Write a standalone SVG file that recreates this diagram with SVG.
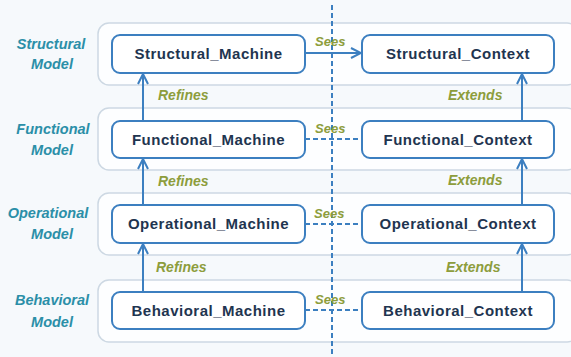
<svg xmlns="http://www.w3.org/2000/svg" width="571" height="357" viewBox="0 0 571 357">
<defs>
<marker id="arr" viewBox="0 0 12 12" refX="11" refY="6" markerWidth="12" markerHeight="12" markerUnits="userSpaceOnUse" orient="auto">
<path d="M1,1 L11,6 L1,11" fill="none" stroke="#3c7fc0" stroke-width="2"/>
</marker>
<style>
.panel{fill:#fdfeff;stroke:#cdd8e3;stroke-width:1.5}
.box{fill:#ffffff;stroke:#3c7fc0;stroke-width:2}
.nt{font-family:"Liberation Sans",Arial,sans-serif;font-weight:bold;font-size:15px;fill:#1f3550;text-anchor:middle;letter-spacing:0.5px}
.rl{font-family:"Liberation Sans",Arial,sans-serif;font-weight:bold;font-style:italic;font-size:14.5px;fill:#2b8fa8;text-anchor:middle}
.el{font-family:"Liberation Sans",Arial,sans-serif;font-weight:bold;font-style:italic;font-size:14px;fill:#8d9d3c}
.sl{font-family:"Liberation Sans",Arial,sans-serif;font-weight:bold;font-style:italic;font-size:13px;fill:#8d9d3c}
.c{fill:none;stroke:#3c7fc0;stroke-width:2}
.d{fill:none;stroke:#3c7fc0;stroke-width:2;stroke-dasharray:5 3}
</style>
</defs>
<rect width="571" height="357" fill="#f6f9fc"/>
<g id="panels">
<rect class="panel" x="98" y="23" width="480" height="62" rx="11"/>
<rect class="panel" x="98" y="108" width="480" height="62" rx="11"/>
<rect class="panel" x="98" y="193" width="480" height="62" rx="11"/>
<rect class="panel" x="98" y="280" width="480" height="62" rx="11"/>
</g>
<g id="row-labels">
<text class="rl" x="51" y="49">Structural</text>
<text class="rl" x="52" y="69">Model</text>
<text class="rl" x="53" y="134">Functional</text>
<text class="rl" x="52" y="155">Model</text>
<text class="rl" x="48" y="218">Operational</text>
<text class="rl" x="52" y="239">Model</text>
<text class="rl" x="52" y="305">Behavioral</text>
<text class="rl" x="52" y="327">Model</text>
</g>
<g id="connectors">
<line class="d" x1="332" y1="5" x2="332" y2="357"/>
<line class="c" x1="305" y1="53" x2="361" y2="53" marker-end="url(#arr)"/>
<line class="d" x1="305" y1="139" x2="362" y2="139"/>
<line class="d" x1="305" y1="224" x2="362" y2="224"/>
<line class="d" x1="305" y1="310" x2="362" y2="310"/>
<line class="c" x1="143" y1="121" x2="143" y2="74" marker-end="url(#arr)"/>
<line class="c" x1="143" y1="205" x2="143" y2="159" marker-end="url(#arr)"/>
<line class="c" x1="143" y1="292" x2="143" y2="244" marker-end="url(#arr)"/>
<line class="c" x1="522" y1="121" x2="522" y2="74" marker-end="url(#arr)"/>
<line class="c" x1="522" y1="205" x2="522" y2="159" marker-end="url(#arr)"/>
<line class="c" x1="522" y1="292" x2="522" y2="244" marker-end="url(#arr)"/>
<text class="sl" x="315" y="46">Sees</text>
<text class="sl" x="315" y="133">Sees</text>
<text class="sl" x="314" y="218">Sees</text>
<text class="sl" x="315" y="304">Sees</text>
<text class="el" x="158" y="100">Refines</text>
<text class="el" x="158" y="186">Refines</text>
<text class="el" x="156" y="272">Refines</text>
<text class="el" x="448" y="100">Extends</text>
<text class="el" x="448" y="185">Extends</text>
<text class="el" x="446" y="272">Extends</text>
</g>
<g id="structural-machine"><rect class="box" x="112" y="35" width="193" height="38" rx="8"/><text class="nt" x="208.5" y="59">Structural_Machine</text></g>
<g id="structural-context"><rect class="box" x="362" y="35" width="192" height="38" rx="8"/><text class="nt" x="458" y="59">Structural_Context</text></g>
<g id="functional-machine"><rect class="box" x="112" y="121" width="193" height="37" rx="8"/><text class="nt" x="208.5" y="145">Functional_Machine</text></g>
<g id="functional-context"><rect class="box" x="362" y="121" width="192" height="37" rx="8"/><text class="nt" x="458" y="145">Functional_Context</text></g>
<g id="operational-machine"><rect class="box" x="112" y="205" width="193" height="38" rx="8"/><text class="nt" x="208.5" y="229">Operational_Machine</text></g>
<g id="operational-context"><rect class="box" x="362" y="205" width="192" height="38" rx="8"/><text class="nt" x="458" y="229">Operational_Context</text></g>
<g id="behavioral-machine"><rect class="box" x="112" y="292" width="193" height="37" rx="8"/><text class="nt" x="208.5" y="316">Behavioral_Machine</text></g>
<g id="behavioral-context"><rect class="box" x="362" y="292" width="192" height="37" rx="8"/><text class="nt" x="458" y="316">Behavioral_Context</text></g>
</svg>
